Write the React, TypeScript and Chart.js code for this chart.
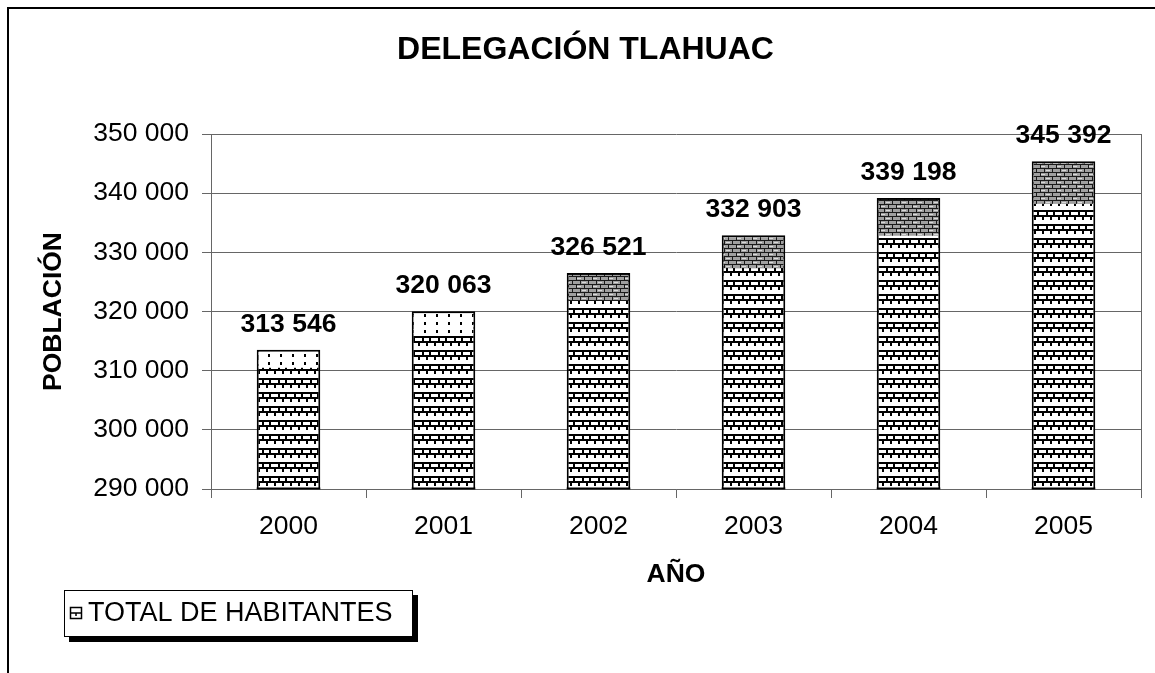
import React, { useEffect, useRef } from 'react';
import { Chart, registerables } from 'chart.js';

Chart.register(...registerables);

// ---- data ----
const years = ['2000', '2001', '2002', '2003', '2004', '2005'];
const population = [313546, 320063, 326521, 332903, 339198, 345392];
const yMin = 290000;
const yMax = 350000;
const yStep = 10000;
const chartTitle = 'DELEGACIÓN TLAHUAC';
const yTitle = 'POBLACIÓN';
const xTitle = 'AÑO';
const seriesLabel = 'TOTAL DE HABITANTES';

const FONT = '"Liberation Sans", Arial, Helvetica, sans-serif';
const AXIS_COLOR = '#666666';

function fmt(v: number): string {
  return String(Math.round(v)).replace(/\B(?=(\d{3})+(?!\d))/g, ' ');
}

function makeTile(w: number, h: number, draw: (g: CanvasRenderingContext2D) => void) {
  const c = document.createElement('canvas');
  c.width = w;
  c.height = h;
  const g = c.getContext('2d') as CanvasRenderingContext2D;
  draw(g);
  return c;
}

function brickPattern(ctx: CanvasRenderingContext2D) {
  const tile = makeTile(16, 14, (g) => {
    g.fillStyle = '#ffffff';
    g.fillRect(0, 0, 16, 14);
    g.fillStyle = '#000000';
    g.fillRect(0, 0, 16, 2);
    g.fillRect(0, 5, 16, 2);
    g.fillRect(6, 2, 2, 3);
    g.fillRect(13, 2, 2, 3);
    g.fillRect(2, 7, 2, 3);
    g.fillRect(10, 7, 2, 3);
  });
  return ctx.createPattern(tile, 'repeat') as CanvasPattern;
}

function grayBrickPattern(ctx: CanvasRenderingContext2D) {
  const tile = makeTile(16, 8, (g) => {
    g.fillStyle = '#a0a0a0';
    g.fillRect(0, 0, 16, 8);
    g.fillStyle = '#1a1a1a';
    g.fillRect(0, 0, 16, 1);
    g.fillRect(0, 4, 16, 1);
    g.fillRect(4, 1, 1, 3);
    g.fillRect(12, 1, 1, 3);
    g.fillRect(0, 5, 1, 3);
    g.fillRect(8, 5, 1, 3);
    g.fillStyle = '#d8d8d8';
    g.fillRect(6, 2, 4, 1);
    g.fillRect(1, 6, 4, 1);
  });
  return ctx.createPattern(tile, 'repeat') as CanvasPattern;
}

function dotPattern(ctx: CanvasRenderingContext2D) {
  const tile = makeTile(12, 8, (g) => {
    g.fillStyle = '#ffffff';
    g.fillRect(0, 0, 12, 8);
    g.fillStyle = '#000000';
    g.fillRect(4, 2, 2, 3);
  });
  return ctx.createPattern(tile, 'repeat') as CanvasPattern;
}

const framePlugin = {
  id: 'frame',
  beforeDraw(chart: any) {
    const { ctx, width, height } = chart;
    ctx.save();
    ctx.fillStyle = '#ffffff';
    ctx.fillRect(0, 0, width, height);
    ctx.fillStyle = '#000000';
    ctx.fillRect(7, 7, width - 7, 2);
    ctx.fillRect(7, 7, 2, height - 7);
    ctx.restore();
  },
};

const plotBorderPlugin = {
  id: 'plotBorder',
  beforeDatasetsDraw(chart: any) {
    const { ctx, chartArea } = chart;
    ctx.save();
    ctx.strokeStyle = AXIS_COLOR;
    ctx.lineWidth = 1;
    ctx.beginPath();
    const x = Math.round(chartArea.right) + 0.5;
    ctx.moveTo(x, chartArea.top);
    ctx.lineTo(x, chartArea.bottom);
    ctx.stroke();
    ctx.restore();
  },
};

const barTopPlugin = {
  id: 'barTop',
  afterDatasetsDraw(chart: any, _args: any, opts: any) {
    const meta = chart.getDatasetMeta(0);
    const { ctx, chartArea } = chart;
    const patterns = opts.patterns || [];
    ctx.save();
    ctx.beginPath();
    ctx.rect(chartArea.left, chartArea.top, chartArea.right - chartArea.left, chartArea.bottom - chartArea.top);
    ctx.clip();
    meta.data.forEach((bar: any, i: number) => {
      const { x, y, base, width } = bar.getProps(['x', 'y', 'base', 'width'], true);
      const bottom = Math.min(base, chartArea.bottom);
      const bw = opts.borderWidth;
      const h = (bottom - y) * opts.fraction;
      if (!patterns[i]) return;
      ctx.fillStyle = patterns[i];
      ctx.fillRect(x - width / 2 + bw, y + bw, width - 2 * bw, h - bw);
    });
    // redraw bar bottoms on the axis
    ctx.restore();
    ctx.save();
    ctx.fillStyle = '#000000';
    meta.data.forEach((bar: any) => {
      const { x, width } = bar.getProps(['x', 'width'], true);
      ctx.fillRect(x - width / 2, chartArea.bottom - 1.5, width, 2);
    });
    ctx.restore();
  },
};

const valueLabelPlugin = {
  id: 'valueLabels',
  afterDatasetsDraw(chart: any) {
    const meta = chart.getDatasetMeta(0);
    const ctx = chart.ctx;
    const data = chart.data.datasets[0].data as number[];
    ctx.save();
    ctx.fillStyle = '#000000';
    ctx.font = `bold 26.5px ${FONT}`;
    ctx.textAlign = 'center';
    ctx.textBaseline = 'alphabetic';
    meta.data.forEach((bar: any, i: number) => {
      const { x, y } = bar.getProps(['x', 'y'], true);
      ctx.fillText(fmt(data[i]), x, y - 18);
    });
    ctx.restore();
  },
};

const boxLegendPlugin = {
  id: 'boxLegend',
  afterDraw(chart: any) {
    const ctx = chart.ctx;
    const ds = chart.data.datasets[0];
    const bx = 64, by = 590, bw = 349, bh = 47;
    ctx.save();
    ctx.fillStyle = '#000000';
    ctx.fillRect(bx + 5, by + 5, bw, bh);
    ctx.fillStyle = '#ffffff';
    ctx.fillRect(bx, by, bw, bh);
    ctx.strokeStyle = '#000000';
    ctx.lineWidth = 1;
    ctx.strokeRect(bx + 0.5, by + 0.5, bw - 1, bh - 1);
    // icon
    const ix = 70, iy = 607, is = 12;
    ctx.fillStyle = '#ffffff';
    ctx.fillRect(ix, iy, is, is);
    ctx.strokeStyle = '#000000';
    ctx.lineWidth = 1.5;
    ctx.strokeRect(ix + 0.5, iy + 0.5, is - 1, is - 1);
    ctx.beginPath();
    ctx.moveTo(ix, iy + 6);
    ctx.lineTo(ix + is, iy + 6);
    ctx.moveTo(ix + 6, iy + 6);
    ctx.lineTo(ix + 6, iy + 9);
    ctx.stroke();
    // text
    ctx.fillStyle = '#000000';
    ctx.font = `27px ${FONT}`;
    ctx.textAlign = 'left';
    ctx.textBaseline = 'middle';
    ctx.fillText(ds.label, 88, by + bh / 2 + 0.5);
    ctx.restore();
  },
};

export default function App() {
  const canvasRef = useRef<HTMLCanvasElement | null>(null);

  useEffect(() => {
    document.body.style.margin = '0';
    document.body.style.overflow = 'hidden';
    const canvas = canvasRef.current;
    if (!canvas) return;
    const ctx = canvas.getContext('2d') as CanvasRenderingContext2D;
    const brick = brickPattern(ctx);
    const gray = grayBrickPattern(ctx);
    const dots = dotPattern(ctx);

    const tickFont = { family: FONT, size: 26.5 };
    const boldFont = { family: FONT, size: 26.5, weight: 'bold' as const };

    const chart = new Chart(ctx, {
      type: 'bar',
      data: {
        labels: years,
        datasets: [
          {
            label: seriesLabel,
            data: population,
            backgroundColor: brick,
            borderColor: '#000000',
            borderWidth: 2,
            borderSkipped: false,
            barPercentage: 0.41,
            categoryPercentage: 1.0,
          },
        ],
      },
      options: {
        responsive: false,
        animation: false,
        events: [],
        layout: { padding: { left: 30, right: 14, top: 0, bottom: 0 } },
        plugins: {
          legend: { display: false },
          tooltip: { enabled: false },
          title: {
            display: true,
            text: chartTitle,
            color: '#000000',
            font: { family: FONT, size: 32, weight: 'bold' },
            padding: { top: 30.5, bottom: 65.1 },
          },
          barTop: {
            fraction: 0.13,
            borderWidth: 2,
            patterns: [dots, dots, gray, gray, gray, gray],
          },
        } as any,
        scales: {
          x: {
            type: 'category',
            offset: true,
            grid: {
              display: true,
              drawOnChartArea: false,
              drawTicks: true,
              tickLength: 9,
              color: AXIS_COLOR,
              offset: true,
            },
            border: { display: true, color: AXIS_COLOR },
            ticks: {
              color: '#000000',
              font: tickFont,
              padding: 13,
              maxRotation: 0,
              minRotation: 0,
              autoSkip: false,
            },
            title: {
              display: true,
              text: xTitle,
              color: '#000000',
              font: boldFont,
              padding: { top: 0, bottom: 82.6 },
            },
            afterFit: (s: any) => {
              s.height = 184;
            },
          },
          y: {
            min: yMin,
            max: yMax,
            ticks: {
              stepSize: yStep,
              color: '#000000',
              font: tickFont,
              padding: 13,
              callback: (v: any) => fmt(Number(v)),
            },
            grid: { color: AXIS_COLOR, tickLength: 9 },
            border: { display: true, color: AXIS_COLOR },
            title: {
              display: true,
              text: yTitle,
              color: '#000000',
              font: boldFont,
              padding: { top: 7.6, bottom: 0 },
            },
            afterFit: (s: any) => {
              s.width = 181;
            },
          },
        },
      } as any,
      plugins: [framePlugin, plotBorderPlugin, barTopPlugin, valueLabelPlugin, boxLegendPlugin],
    });

    return () => {
      chart.destroy();
    };
  }, []);

  return (
    <div style={{ position: 'relative', width: 1155, height: 673, overflow: 'hidden' }}>
      <canvas ref={canvasRef} width={1155} height={673} style={{ display: 'block' }} />
    </div>
  );
}
